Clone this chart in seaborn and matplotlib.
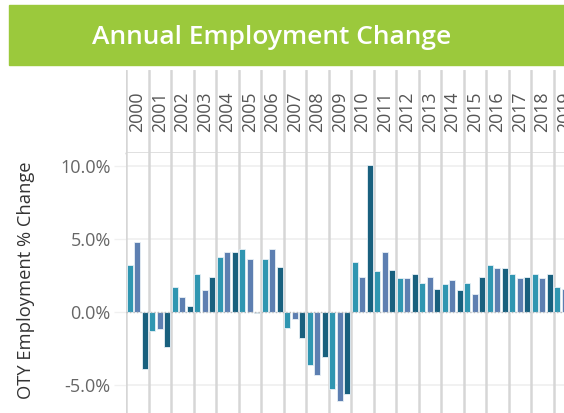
import matplotlib
matplotlib.use("Agg")
import matplotlib.pyplot as plt
import seaborn as sns
import pandas as pd
import numpy as np

years = [str(y) for y in range(2000, 2020)]
series_names = ["Series 1", "Series 2", "Series 3"]
series1 = [3.2, -1.3, 1.7, 2.6, 3.8, 4.3, 3.6, -1.1, -3.6, -5.3, 3.4, 2.8, 2.3, 2.0, 1.9, 2.0, 3.2, 2.6, 2.6, 1.7]
series2 = [4.8, -1.2, 1.0, 1.5, 4.1, 3.6, 4.3, -0.5, -4.3, -6.1, 2.4, 4.1, 2.3, 2.4, 2.2, 1.2, 3.0, 2.3, 2.3, 1.6]
series3 = [-3.9, -2.4, 0.4, 2.4, 4.1, -0.1, 3.1, -1.8, -3.1, -5.6, 10.1, 2.9, 2.6, 1.6, 1.5, 2.4, 3.0, 2.4, 2.6, 1.5]
colors = ["#1BA3C6", "#4F7CBF", "#08678F"]

df = pd.DataFrame({
    "Year": years * 3,
    "Series": sum([[s] * len(years) for s in series_names], []),
    "Change": series1 + series2 + series3,
})

sns.set_theme(style="white")
plt.rcParams["font.family"] = ["Open Sans", "DejaVu Sans"]

W, H = 564, 413
fig = plt.figure(figsize=(W / 100, H / 100), dpi=100)

def fx(px):
    return px / W

def fy(py):
    return 1 - py / H

# banner
fig.patches.append(plt.Rectangle((fx(9), fy(65)), 1, (65 - 5) / H,
                                 transform=fig.transFigure, color="#9BC93C", zorder=0))
fig.text(fx(272), fy(38), "Annual Employment Change", color="white",
         fontsize=19, fontweight="semibold", ha="center", va="center")

left = 126
colw = 22.5
axw = colw * 20
# header axes
hax = fig.add_axes([fx(left), fy(153), axw / W, (153 - 70) / H])
# main axes
ax = fig.add_axes([fx(left), 0, axw / W, (H - 153) / H])

sns.barplot(data=df, x="Year", y="Change", hue="Series", palette=colors,
            width=1.0, gap=0.15, ax=ax, legend=False, edgecolor="#e8f0f6",
            linewidth=0.6, zorder=3)

ax.set_xlim(-0.5, 19.5)
ax.set_ylim(-6.92, 10.89)
ax.set_xlabel("")
ax.set_ylabel("OTY Employment % Change", fontsize=13.2, color="#333333")
ax.yaxis.set_label_coords(-91 / axw, 0.5 - (280 - 283) / (H - 153))
ax.set_xticks([])
ticks = [-5, 0, 5, 10]
ax.set_yticks(ticks)
ax.set_yticklabels([f"{t:.1f}%" for t in ticks], fontsize=13, color="#666666")
ax.tick_params(axis="y", length=9, color="#f0f0f0", width=1, pad=2, left=True)
for t in [-5, 5, 10]:
    ax.axhline(t, color="#efefef", lw=1.2, zorder=1)
ax.axhline(0, color="#bbbbbb", lw=1, ls=(0, (1, 1.5)), zorder=4)
for i in range(-1, 20):
    ax.axvline(i + 0.5, color="#d6d6d6", lw=1.8, zorder=2)
for s in ax.spines.values():
    s.set_visible(False)

hax.set_xlim(-0.5, 19.5)
hax.set_ylim(0, 1)
hax.axis("off")
for i in range(-1, 20):
    hax.axvline(i + 0.5, color="#d6d6d6", lw=1.8)
hax.axhline(0, color="#d6d6d6", lw=1.8, xmin=0, xmax=1, clip_on=False)
for i, y in enumerate(years):
    hax.text(i, 0.5, y, rotation=90, ha="center", va="center", fontsize=12.8,
             color="#555555", clip_on=True)

fig.savefig("out.png", dpi=100)
